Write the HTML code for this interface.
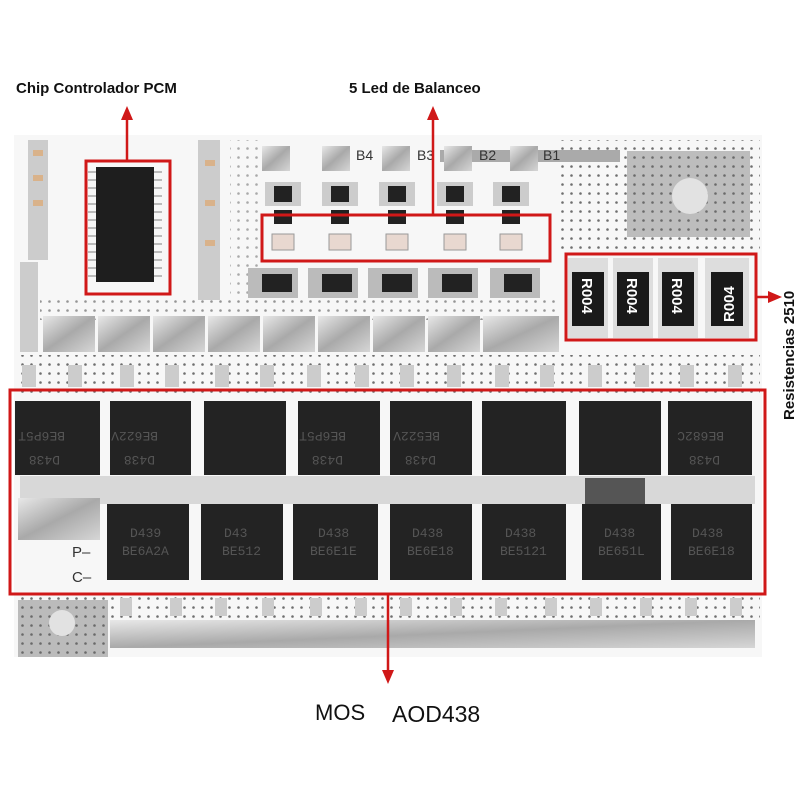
<!DOCTYPE html>
<html><head><meta charset="utf-8"><style>
body{margin:0;background:#fff;}
svg{display:block;font-family:"Liberation Sans",Arial,sans-serif;}
</style></head><body>
<svg width="800" height="800" viewBox="0 0 800 800" xmlns="http://www.w3.org/2000/svg">
<defs>
<pattern id="dots" width="9" height="9" patternUnits="userSpaceOnUse"><circle cx="4.5" cy="4.5" r="1.3" fill="#333"/></pattern>
<linearGradient id="sil" x1="0" y1="0" x2="1" y2="1"><stop offset="0" stop-color="#e8e8e8"/><stop offset="0.5" stop-color="#a9a9a9"/><stop offset="1" stop-color="#d6d6d6"/></linearGradient>
</defs>
<rect width="800" height="800" fill="#fff"/>
<!-- board -->
<rect x="14" y="135" width="748" height="522" fill="#f7f7f7"/>
<!-- dot areas -->
<rect x="560" y="140" width="200" height="110" fill="url(#dots)" opacity="0.7"/>
<rect x="20" y="355" width="740" height="40" fill="url(#dots)" opacity="0.7"/>
<rect x="20" y="595" width="740" height="25" fill="url(#dots)" opacity="0.7"/>
<rect x="40" y="300" width="520" height="20" fill="url(#dots)" opacity="0.5"/>
<rect x="230" y="140" width="30" height="160" fill="url(#dots)" opacity="0.4"/>
<!-- upper right silver block -->
<rect x="627" y="151" width="123" height="86" fill="#bdbdbd"/>
<rect x="627" y="151" width="123" height="86" fill="url(#dots)" opacity="0.6"/>
<circle cx="690" cy="196" r="18" fill="#e2e2e2"/>
<path d="M440 150 L620 150 L620 162 L440 162Z" fill="#aaa"/>
<!-- left column components -->
<g fill="#ccc">
<rect x="28" y="140" width="20" height="120"/>
<rect x="198" y="140" width="22" height="160"/>
</g>
<g fill="#d9b28a"><rect x="33" y="150" width="10" height="6"/><rect x="33" y="175" width="10" height="6"/><rect x="33" y="200" width="10" height="6"/><rect x="205" y="160" width="10" height="6"/><rect x="205" y="200" width="10" height="6"/><rect x="205" y="240" width="10" height="6"/></g>
<!-- PCM chip -->
<rect x="96" y="167" width="58" height="115" fill="#1e1e1e"/>
<g stroke="#bbb" stroke-width="2">
<path d="M88 172h8M88 180h8M88 188h8M88 196h8M88 204h8M88 212h8M88 220h8M88 228h8M88 236h8M88 244h8M88 252h8M88 260h8M88 268h8M88 276h8"/>
<path d="M154 172h8M154 180h8M154 188h8M154 196h8M154 204h8M154 212h8M154 220h8M154 228h8M154 236h8M154 244h8M154 252h8M154 260h8M154 268h8M154 276h8"/>
</g>
<!-- top pads B4.. -->
<g fill="url(#sil)">
<rect x="262" y="146" width="28" height="25"/><rect x="322" y="146" width="28" height="25"/><rect x="382" y="146" width="28" height="25"/><rect x="444" y="146" width="28" height="25"/><rect x="510" y="146" width="28" height="25"/>
</g>
<g font-size="14" fill="#333"><text x="356" y="160">B4</text><text x="417" y="160">B3</text><text x="479" y="160">B2</text><text x="543" y="160">B1</text></g>
<!-- 151 resistors, leds, transistors -->
<g>
<rect x="265" y="182" width="36" height="24" fill="#ccc"/><rect x="322" y="182" width="36" height="24" fill="#ccc"/><rect x="379" y="182" width="36" height="24" fill="#ccc"/><rect x="437" y="182" width="36" height="24" fill="#ccc"/><rect x="493" y="182" width="36" height="24" fill="#ccc"/>
<rect x="274" y="186" width="18" height="16" fill="#222"/><rect x="331" y="186" width="18" height="16" fill="#222"/><rect x="388" y="186" width="18" height="16" fill="#222"/><rect x="446" y="186" width="18" height="16" fill="#222"/><rect x="502" y="186" width="18" height="16" fill="#222"/>
<rect x="274" y="210" width="18" height="14" fill="#222"/><rect x="331" y="210" width="18" height="14" fill="#222"/><rect x="388" y="210" width="18" height="14" fill="#222"/><rect x="446" y="210" width="18" height="14" fill="#222"/><rect x="502" y="210" width="18" height="14" fill="#222"/>
<rect x="272" y="234" width="22" height="16" fill="#e8d8d0" stroke="#999"/><rect x="329" y="234" width="22" height="16" fill="#e8d8d0" stroke="#999"/><rect x="386" y="234" width="22" height="16" fill="#e8d8d0" stroke="#999"/><rect x="444" y="234" width="22" height="16" fill="#e8d8d0" stroke="#999"/><rect x="500" y="234" width="22" height="16" fill="#e8d8d0" stroke="#999"/>
<rect x="248" y="268" width="50" height="30" fill="#bbb"/><rect x="308" y="268" width="50" height="30" fill="#bbb"/><rect x="368" y="268" width="50" height="30" fill="#bbb"/><rect x="428" y="268" width="50" height="30" fill="#bbb"/><rect x="490" y="268" width="50" height="30" fill="#bbb"/>
<rect x="262" y="274" width="30" height="18" fill="#222"/><rect x="322" y="274" width="30" height="18" fill="#222"/><rect x="382" y="274" width="30" height="18" fill="#222"/><rect x="442" y="274" width="30" height="18" fill="#222"/><rect x="504" y="274" width="28" height="18" fill="#222"/>
</g>
<!-- silver pads row -->
<g fill="url(#sil)">
<rect x="43" y="316" width="52" height="36"/><rect x="98" y="316" width="52" height="36"/><rect x="153" y="316" width="52" height="36"/><rect x="208" y="316" width="52" height="36"/><rect x="263" y="316" width="52" height="36"/><rect x="318" y="316" width="52" height="36"/><rect x="373" y="316" width="52" height="36"/><rect x="428" y="316" width="52" height="36"/><rect x="483" y="316" width="76" height="36"/>
</g>
<rect x="20" y="262" width="18" height="90" fill="#ccc"/>
<!-- 2510 resistors -->
<g>
<rect x="568" y="258" width="40" height="80" fill="#ddd"/><rect x="613" y="258" width="40" height="80" fill="#ddd"/><rect x="658" y="258" width="40" height="80" fill="#ddd"/><rect x="705" y="258" width="44" height="80" fill="#ddd"/>
<rect x="572" y="272" width="32" height="54" fill="#1a1a1a"/><rect x="617" y="272" width="32" height="54" fill="#1a1a1a"/><rect x="662" y="272" width="32" height="54" fill="#1a1a1a"/><rect x="711" y="272" width="32" height="54" fill="#1a1a1a"/>
<g fill="#fff" font-size="15" font-weight="bold">
<text transform="translate(582,278) rotate(90)">R004</text><text transform="translate(627,278) rotate(90)">R004</text><text transform="translate(672,278) rotate(90)">R004</text><text transform="translate(734,322) rotate(-90)">R004</text>
</g></g>
<!-- tabs above mos -->
<g fill="#ccc"><rect x="22" y="365" width="14" height="22"/><rect x="68" y="365" width="14" height="22"/><rect x="120" y="365" width="14" height="22"/><rect x="165" y="365" width="14" height="22"/><rect x="215" y="365" width="14" height="22"/><rect x="260" y="365" width="14" height="22"/><rect x="307" y="365" width="14" height="22"/><rect x="355" y="365" width="14" height="22"/><rect x="400" y="365" width="14" height="22"/><rect x="447" y="365" width="14" height="22"/><rect x="495" y="365" width="14" height="22"/><rect x="540" y="365" width="14" height="22"/><rect x="588" y="365" width="14" height="22"/><rect x="635" y="365" width="14" height="22"/><rect x="680" y="365" width="14" height="22"/><rect x="728" y="365" width="14" height="22"/></g>
<!-- between rows silver -->
<rect x="20" y="476" width="735" height="28" fill="#d8d8d8"/>
<rect x="18" y="498" width="82" height="42" fill="url(#sil)"/>
<rect x="585" y="478" width="60" height="26" fill="#555"/>
<!-- top MOSFETs -->
<g fill="#232323">
<rect x="15" y="401" width="85" height="74"/><rect x="110" y="401" width="81" height="74"/><rect x="204" y="401" width="82" height="74"/><rect x="298" y="401" width="82" height="74"/><rect x="390" y="401" width="82" height="74"/><rect x="482" y="401" width="84" height="74"/><rect x="579" y="401" width="82" height="74"/><rect x="668" y="401" width="84" height="74"/>
</g>
<!-- bottom MOSFETs -->
<g fill="#232323">
<rect x="107" y="504" width="82" height="76"/><rect x="201" y="504" width="82" height="76"/><rect x="293" y="504" width="85" height="76"/><rect x="390" y="504" width="82" height="76"/><rect x="482" y="504" width="84" height="76"/><rect x="582" y="504" width="79" height="76"/><rect x="671" y="504" width="81" height="76"/>
</g>
<g fill="#555" font-size="13" font-family="Liberation Mono,monospace">
<text x="130" y="537">D439</text><text x="122" y="555">BE6A2A</text>
<text x="224" y="537">D43</text><text x="222" y="555">BE512</text>
<text x="318" y="537">D438</text><text x="310" y="555">BE6E1E</text>
<text x="412" y="537">D438</text><text x="407" y="555">BE6E18</text>
<text x="505" y="537">D438</text><text x="500" y="555">BE5121</text>
<text x="604" y="537">D438</text><text x="598" y="555">BE651L</text>
<text x="692" y="537">D438</text><text x="688" y="555">BE6E18</text>
</g>
<g fill="#555" font-size="13" font-family="Liberation Mono,monospace">
<text transform="translate(60,456) rotate(180)">D438</text><text transform="translate(65,432) rotate(180)">BE6P5T</text>
<text transform="translate(155,456) rotate(180)">D438</text><text transform="translate(158,432) rotate(180)">BE622V</text>
<text transform="translate(343,456) rotate(180)">D438</text><text transform="translate(346,432) rotate(180)">BE6P5T</text>
<text transform="translate(436,456) rotate(180)">D438</text><text transform="translate(440,432) rotate(180)">BE522V</text>
<text transform="translate(720,456) rotate(180)">D438</text><text transform="translate(724,432) rotate(180)">BE682C</text>
</g>
<text x="72" y="557" font-size="15" fill="#333">P–</text>
<text x="72" y="582" font-size="15" fill="#333">C–</text>
<!-- bottom area -->
<rect x="18" y="600" width="90" height="57" fill="#bbb"/>
<rect x="18" y="600" width="90" height="57" fill="url(#dots)" opacity="0.6"/>
<circle cx="62" cy="623" r="13" fill="#e2e2e2"/>
<rect x="110" y="620" width="645" height="28" fill="url(#sil)"/>
<g fill="#ccc"><rect x="120" y="598" width="12" height="18"/><rect x="170" y="598" width="12" height="18"/><rect x="215" y="598" width="12" height="18"/><rect x="262" y="598" width="12" height="18"/><rect x="310" y="598" width="12" height="18"/><rect x="355" y="598" width="12" height="18"/><rect x="400" y="598" width="12" height="18"/><rect x="450" y="598" width="12" height="18"/><rect x="495" y="598" width="12" height="18"/><rect x="545" y="598" width="12" height="18"/><rect x="590" y="598" width="12" height="18"/><rect x="640" y="598" width="12" height="18"/><rect x="685" y="598" width="12" height="18"/><rect x="730" y="598" width="12" height="18"/></g>
<!-- red annotation boxes -->
<g fill="none" stroke="#d01818" stroke-width="3">
<rect x="86" y="161" width="84" height="133"/>
<rect x="262" y="215" width="288" height="46"/>
<rect x="566" y="254" width="190" height="86"/>
<rect x="10" y="390" width="755" height="204"/>
</g>
<g stroke="#d01818" stroke-width="2.5" fill="#d01818">
<line x1="127" y1="161" x2="127" y2="118"/><path d="M121 120 L127 106 L133 120Z" stroke="none"/>
<line x1="433" y1="215" x2="433" y2="118"/><path d="M427 120 L433 106 L439 120Z" stroke="none"/>
<line x1="756" y1="297" x2="770" y2="297"/><path d="M768 291 L782 297 L768 303Z" stroke="none"/>
<line x1="388" y1="594" x2="388" y2="672"/><path d="M382 670 L388 684 L394 670Z" stroke="none"/>
</g>
<g font-weight="bold" font-size="15" fill="#111">
<text x="16" y="93">Chip Controlador PCM</text>
<text x="349" y="93">5 Led de Balanceo</text>
<text transform="translate(794,420) rotate(-90)" font-size="15">Resistencias 2510</text>
</g>
<text x="315" y="720" font-size="22" fill="#111">MOS</text>
<text x="392" y="722" font-size="23" fill="#111">AOD438</text>
</svg>
</body></html>
